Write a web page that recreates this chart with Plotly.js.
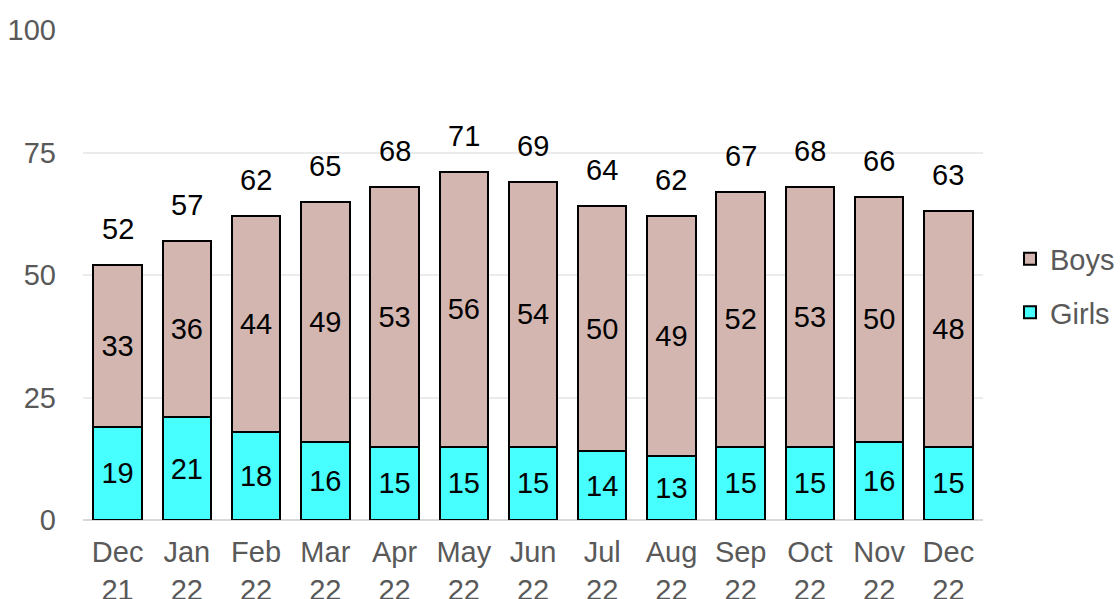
<!DOCTYPE html>
<html>
<head>
<meta charset="utf-8">
<script src="https://cdn.plot.ly/plotly-3.0.1.min.js"></script>
<style>
  html, body { margin: 0; padding: 0; background: #fff; }
  #chart { width: 1120px; height: 599px; }
</style>
</head>
<body>
<div id="chart"></div>
<script>
// Monthly counts, December 2021 to December 2022
const months = ["Dec<br>21", "Jan<br>22", "Feb<br>22", "Mar<br>22", "Apr<br>22", "May<br>22", "Jun<br>22",
                "Jul<br>22", "Aug<br>22", "Sep<br>22", "Oct<br>22", "Nov<br>22", "Dec<br>22"];
const girls = [19, 21, 18, 16, 15, 15, 15, 14, 13, 15, 15, 16, 15];
const boys  = [33, 36, 44, 49, 53, 56, 54, 50, 49, 52, 53, 50, 48];
const totals = [52, 57, 62, 65, 68, 71, 69, 64, 62, 67, 68, 66, 63];
const yTicks = [0, 25, 50, 75, 100];

const FONT = "Liberation Sans, Arial, sans-serif";
const LABEL_SIZE = 29;

const segment = (name, values, color, rank) => ({
  type: "bar",
  name: name,
  legendgroup: name,
  legendrank: rank,
  x: months,
  y: values,
  text: values.map(String),
  textposition: "inside",
  insidetextanchor: "middle",
  constraintext: "none",
  textfont: { family: FONT, size: LABEL_SIZE, color: "#000" },
  marker: { color: color, line: { color: "#000", width: 2 } },
  hoverinfo: "skip"
});

const data = [
  segment("Girls", girls, "#48ffff", 2),
  segment("Boys", boys, "#d3b6b0", 1)
];

// Totals written above each stacked column
const annotations = months.map((m, i) => ({
  x: m,
  y: totals[i],
  text: String(totals[i]),
  showarrow: false,
  yanchor: "bottom",
  yshift: 18,
  font: { family: FONT, size: LABEL_SIZE, color: "#000" }
}));

const layout = {
  width: 1120,
  height: 599,
  margin: { l: 83, r: 137, t: 30, b: 79, autoexpand: false },
  paper_bgcolor: "#fff",
  plot_bgcolor: "#fff",
  barmode: "stack",
  bargap: 0.3,
  showlegend: true,
  legend: {
    traceorder: "grouped",
    tracegroupgap: 13,
    x: 1.03, xanchor: "left",
    y: 0.478, yanchor: "middle",
    font: { family: FONT, size: LABEL_SIZE, color: "#595959" },
    itemwidth: 30,
    bgcolor: "rgba(0,0,0,0)"
  },
  xaxis: {
    type: "category",
    tickfont: { family: FONT, size: LABEL_SIZE, color: "#595959" },
    showgrid: false,
    showline: false,
    ticks: "",
    ticklabelstandoff: 12
  },
  yaxis: {
    range: [0, 100],
    tickvals: yTicks,
    ticktext: yTicks.map(String),
    tickfont: { family: FONT, size: LABEL_SIZE, color: "#595959" },
    gridcolor: "#ebebeb",
    gridwidth: 2,
    zeroline: true,
    zerolinecolor: "#d9d9d9",
    zerolinewidth: 2,
    showline: false,
    ticks: "",
    ticklabelstandoff: 26
  },
  annotations: annotations
};

Plotly.newPlot("chart", data, layout, { staticPlot: true, displayModeBar: false });
</script>
</body>
</html>
